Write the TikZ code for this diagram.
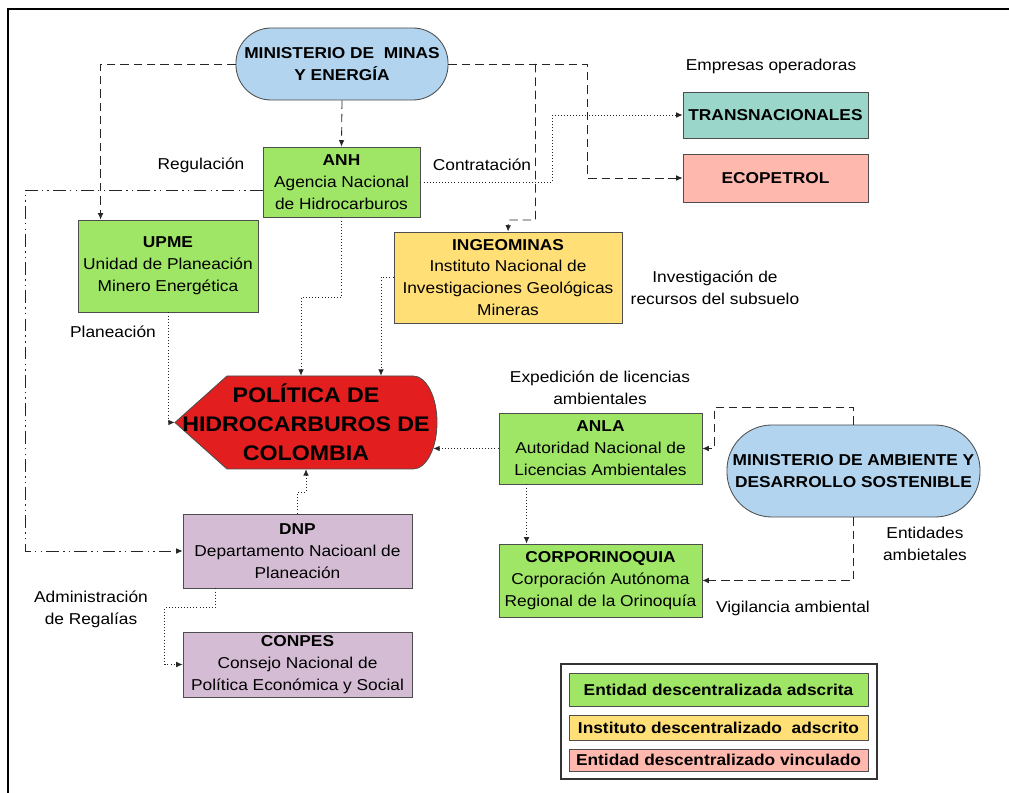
\documentclass[tikz,border=0pt]{standalone}
\usepackage{fontspec}
\setmainfont{Liberation Sans}[FakeStretch=1.1]
\usetikzlibrary{arrows.meta,calc,positioning}
\definecolor{mBlue}{HTML}{B2D4EF}
\definecolor{mGreen}{HTML}{9FE566}
\definecolor{mYellow}{HTML}{FFDF76}
\definecolor{mTeal}{HTML}{9AD6C9}
\definecolor{mPink}{HTML}{FFB8AE}
\definecolor{mRed}{HTML}{E21E1E}
\definecolor{mPurple}{HTML}{D4BDD4}
\definecolor{edge}{HTML}{4D4D4D}
\tikzset{txt/.style={font=\fontsize{11.2}{15.6}\selectfont}}
\tikzset{box/.style={draw=edge, line width=.6pt, inner sep=0pt, align=center, txt}}
\tikzset{bbox/.style={box, font=\fontsize{11.2}{15.6}\selectfont\bfseries}}
\tikzset{mstr/.style={bbox, fill=mBlue, rounded corners=25pt}}
\tikzset{lbl/.style={align=center, inner sep=0pt, txt}}
\tikzset{tip/.style={-{Latex[length=4.5pt,width=4pt]}}}
\tikzset{dsh/.style={draw, black!85, line width=.6pt, dash pattern=on 6pt off 3.5pt, tip}}
\tikzset{dtt/.style={draw, black!85, line width=.6pt, dash pattern=on .7pt off 1.5pt, tip}}
\tikzset{ddt/.style={draw, black!85, line width=.6pt,
  dash pattern=on 9pt off 3pt on 1pt off 3pt on 1pt off 3pt, tip}}
\begin{document}
\begin{tikzpicture}[x=0.025cm, y=-0.025cm]
        \useasboundingbox (0,0) rectangle (1009,793);
        \draw[line width=2pt] (1009,9) -- (8,9) -- (8,793);
        %% ministerios y entidades
        \node[mstr, minimum width=5.3cm, minimum height=1.8cm] (minas) at (342,64)
            {MINISTERIO DE~ MINAS\\Y ENERGÍA};
        \node[box, fill=mGreen, minimum width=3.925cm, minimum height=1.75cm] (anh) at (341.5,182)
            {\textbf{ANH}\\Agencia Nacional\\de Hidrocarburos};
        \node[box, fill=mGreen, minimum width=4.5cm, minimum height=2.3cm] (upme) at (168,266)
            {\textbf{UPME}\\Unidad de Planeación\\Minero Energética};
        \node[box, fill=mYellow, minimum width=5.7cm, minimum height=2.275cm] (ingeo) at (508,277.5)
            {\textbf{INGEOMINAS}\\Instituto Nacional de\\Investigaciones Geológicas\\Mineras};
        \node[bbox, fill=mTeal, minimum width=4.625cm, minimum height=1.15cm] (trans) at (775.5,115)
            {TRANSNACIONALES};
        \node[bbox, fill=mPink, minimum width=4.625cm, minimum height=1.2cm] (ecop) at (775.5,178)
            {ECOPETROL};
        \node[box, fill=mGreen, minimum width=5.075cm, minimum height=1.775cm] (anla) at (600.5,448.5)
            {\textbf{ANLA}\\Autoridad Nacional de\\Licencias Ambientales};
        \node[mstr, rounded corners=32pt, minimum width=6.325cm, minimum height=2.3cm] (amb) at (853.5,471)
            {MINISTERIO DE AMBIENTE Y\\DESARROLLO SOSTENIBLE};
        \node[box, fill=mGreen, minimum width=5.075cm, minimum height=1.825cm] (corpo) at (600.5,580.5)
            {\textbf{CORPORINOQUIA}\\Corporación Autónoma\\Regional de la Orinoquía};
        \node[box, fill=mPurple, minimum width=5.725cm, minimum height=1.85cm] (dnp) at (297.5,551)
            {\textbf{DNP}\\Departamento Nacioanl de\\Planeación};
        \node[box, fill=mPurple, minimum width=5.725cm, minimum height=1.625cm] (conpes) at (297.5,664.5)
            {\textbf{CONPES}\\Consejo Nacional de\\Política Económica y Social};
        %% politica
        \draw[draw=edge, fill=mRed, line width=.6pt] (175,422.5) -- (227,376) -- (413,376)
            .. controls (426.25,376) and (437,396.8) .. (437,422.5)
            .. controls (437,448.2) and (426.25,469) .. (413,469) -- (227,469) -- cycle;
        \node[inner sep=0pt, minimum width=6.55cm, minimum height=2.325cm, align=center,
            font=\fontsize{15}{20.6}\selectfont\bfseries] (pol) at (306,422.5)
            {POLÍTICA DE\\HIDROCARBUROS DE\\COLOMBIA};
        %% etiquetas
        \node[lbl] (lreg) at (201,165) {Regulación};
        \node[lbl] (lcon) at (482,165) {Contratación};
        \node[lbl] (lemp) at (771,66) {Empresas operadoras};
        \node[lbl] (lpla) at (113,332) {Planeación};
        \node[lbl] (linv) at (715,288) {Investigación de\\recursos del subsuelo};
        \node[lbl] (lexp) at (600,388) {Expedición de licencias\\ambientales};
        \node[lbl] (lent) at (925,544) {Entidades\\ambietales};
        \node[lbl] (lvig) at (793,608) {Vigilancia ambiental};
        \node[lbl] (ladm) at (91,609) {Administración\\de Regalías};
        %% conexiones
        \draw[dsh] (minas.west) -| ($(upme.north west)+(23,0)$);
        \draw[dsh] (minas.south) -- (anh.north);
        \draw[dsh] (minas.east) -- ++(139,0) |- (ecop.west);
        \draw[dsh] ($(minas.east)+(87,0)$) |- ++(-27,156) -- (ingeo.north);
        \draw[dtt] (anh.east) -- ++(132,0) |- (trans.west);
        \draw[ddt] ($(anh.west)+(0,8)$) -| ($(dnp.west)+(-157,0)$) -- (dnp.west);
        \draw[dtt] (anh.south) -- ++(0,80) -| ($(pol.north)+(-5,0)$);
        \draw[dtt] (ingeo.west) -| ($(pol.north)+(75,0)$);
        \draw[dtt] (upme.south) |- (pol.west);
        \draw[dtt] (anla.west) -- ($(pol.east |- anla.west)+(-4,0)$);
        \draw[dtt] (dnp.north) -- ++(0,-21) -| (pol.south);
        \draw[dtt] ($(dnp.south west)+(33,0)$) -- ++(0,19) -| ($(conpes.west)+(-18,0)$) -- (conpes.west);
        \draw[dtt] ($(anla.south west)+(28,0)$) -- ($(corpo.north west)+(28,0)$);
        \draw[dsh] (amb.north) |- ($(anla.east)+(12,-41.5)$) |- (anla.east);
        \draw[dsh] (amb.south) |- (corpo.east);
        %% leyenda
        \node[draw=black!80, line width=1pt, minimum width=7.9cm, minimum height=2.875cm] (leg) at (719,721.5) {};
        \node[bbox, fill=mGreen, minimum width=7.475cm, minimum height=.825cm] (lg1) at (718.5,689.5)
            {Entidad descentralizada adscrita};
        \node[bbox, fill=mYellow, minimum width=7.475cm, minimum height=.625cm] (lg2) at (718.5,727.5)
            {Instituto descentralizado~ adscrito};
        \node[bbox, fill=mPink, minimum width=7.475cm, minimum height=.55cm] (lg3) at (718.5,760)
            {Entidad descentralizado vinculado};
    \end{tikzpicture}
\end{document}
